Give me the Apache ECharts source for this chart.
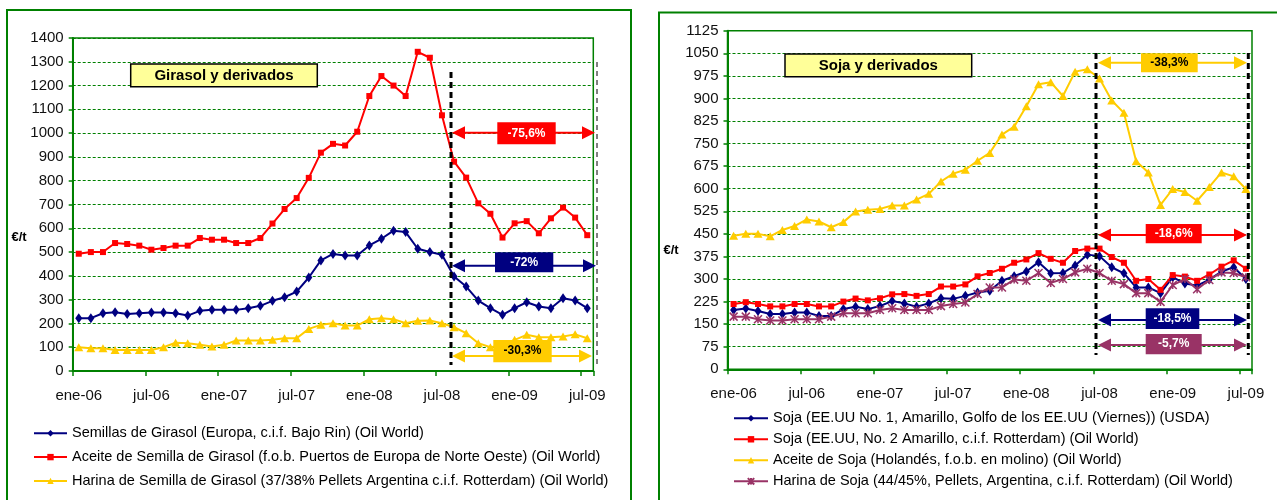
<!DOCTYPE html>
<html>
<head>
<meta charset="utf-8">
<script src="https://cdn.jsdelivr.net/npm/echarts@6/dist/echarts.min.js"></script>
<style>
html,body{margin:0;padding:0;background:#fff;}
#c{width:1277px;height:500px;}
</style>
</head>
<body>
<div id="c"></div>
<script>
// ---- categories (months) ----
const months = [
 'ene-06','feb-06','mar-06','abr-06','may-06','jun-06','jul-06','ago-06','sep-06','oct-06','nov-06','dic-06',
 'ene-07','feb-07','mar-07','abr-07','may-07','jun-07','jul-07','ago-07','sep-07','oct-07','nov-07','dic-07',
 'ene-08','feb-08','mar-08','abr-08','may-08','jun-08','jul-08','ago-08','sep-08','oct-08','nov-08','dic-08',
 'ene-09','feb-09','mar-09','abr-09','may-09','jun-09','jul-09'
];

// ---- Girasol y derivados (€/t) ----
const semillasGirasol = [222,222,243,247,240,243,246,246,243,233,253,257,257,257,264,274,295,310,334,393,465,492,486,486,528,556,590,584,514,500,489,397,355,296,264,236,264,289,271,264,306,296,264];
const aceiteGirasol   = [493,500,500,538,534,527,510,517,527,527,559,552,552,538,538,559,620,681,727,812,918,955,948,1006,1156,1240,1200,1156,1342,1317,1075,880,813,705,661,561,621,630,579,642,687,645,571];
const harinaGirasol   = [100,96,96,88,88,88,88,100,119,117,110,103,110,128,128,128,131,138,138,177,194,201,191,191,218,222,218,201,211,212,201,184,159,117,100,108,131,152,142,142,145,154,138];

// ---- Soja y derivados (€/t) ----
const sojaUSDA      = [197,202,194,184,184,189,189,177,177,200,208,200,210,227,219,208,219,236,234,244,255,261,294,309,325,356,319,320,345,381,376,339,319,272,272,253,306,285,278,298,325,339,300];
const sojaRotterdam = [217,223,217,209,209,217,217,209,209,225,235,229,236,249,250,244,250,275,275,282,309,320,334,354,365,386,367,354,393,401,401,373,354,294,300,264,313,308,294,315,341,362,334];
const aceiteSoja    = [444,450,450,442,463,476,498,491,472,489,524,530,533,544,544,564,583,624,650,663,693,719,780,806,874,947,954,908,989,997,966,893,852,691,654,546,599,589,560,606,654,641,599];
const harinaSoja    = [175,175,166,162,162,166,166,166,175,186,186,186,197,203,197,197,197,210,217,222,250,272,272,298,294,320,287,300,322,334,320,294,283,253,253,224,280,300,266,297,322,320,306];

// ---- texts ----
const namesGirasol = [
 'Semillas de Girasol (Europa, c.i.f. Bajo Rin) (Oil World)',
 'Aceite de Semilla de Girasol (f.o.b. Puertos de Europa de Norte Oeste) (Oil World)',
 'Harina de Semilla de Girasol (37/38% Pellets Argentina c.i.f. Rotterdam) (Oil World)'
];
const namesSoja = [
 'Soja (EE.UU No. 1, Amarillo, Golfo de los EE.UU (Viernes)) (USDA)',
 'Soja (EE.UU, No. 2 Amarillo, c.i.f. Rotterdam) (Oil World)',
 'Aceite de Soja (Holandés, f.o.b. en molino) (Oil World)',
 'Harina de Soja (44/45%, Pellets, Argentina, c.i.f. Rotterdam) (Oil World)'
];
const titleGirasol = 'Girasol y derivados';
const titleSoja = 'Soja y derivados';
const pctGirasol = ['-75,6%','-72%','-30,3%'];
const pctSoja = ['-38,3%','-18,6%','-18,5%','-5,7%'];
const unitLabel = '€/t';

const NAVY='#000080', RED='#FF0000', YEL='#FFCC00', PUR='#993366', GREEN='#008000';
const FONT='Liberation Sans, Arial, sans-serif';

const chart = echarts.init(document.getElementById('c'), null, {renderer:'canvas'});

function xAxisCfg(gi){
  return {
    type:'category', gridIndex:gi, data:months, boundaryGap:true,
    axisLine:{lineStyle:{color:GREEN,width:2}},
    axisTick:{show:true,interval:5,length:5,lineStyle:{color:GREEN,width:1.5}},
    axisLabel:{interval:5,margin:17,fontSize:15,color:'#111',fontFamily:FONT},
    splitLine:{show:false}
  };
}
function yAxisCfg(gi,max,step){
  return {
    type:'value', gridIndex:gi, min:0, max:max, interval:step,
    axisLine:{show:true,lineStyle:{color:GREEN,width:2}},
    axisTick:{show:true,length:4,lineStyle:{color:GREEN,width:1.5}},
    axisLabel:{margin:9,fontSize:15,color:'#111',fontFamily:FONT,formatter:function(v){return String(v);}},
    splitLine:{show:true,lineStyle:{color:GREEN,type:[3,2],width:1.2}}
  };
}
function lineSeries(name,data,gi,color,symbol,size,extra){
  return Object.assign({
    name:name, type:'line', xAxisIndex:gi, yAxisIndex:gi, data:data,
    symbol:symbol, symbolSize:size, showSymbol:true, showAllSymbol:true,
    lineStyle:{color:color,width:2}, itemStyle:{color:color},
    emphasis:{disabled:true}, z:3
  }, extra||{});
}
const starPath = 'path://M0,0L10,10M10,0L0,10M5,0L5,10';

// ---- graphic helpers (annotation decorations) ----
const g = [];
function rect(x,y,w,h,fill,stroke,lw,z){
  g.push({type:'rect',shape:{x:x,y:y,width:w,height:h},style:{fill:fill,stroke:stroke,lineWidth:lw||0},z:z||100,silent:true});
}
function vdash(x,y1,y2,w,dash){
  g.push({type:'line',shape:{x1:x,y1:y1,x2:x,y2:y2},style:{stroke:'#000',lineWidth:w,lineDash:dash},z:90,silent:true});
}
function arrow(x1,x2,y,color){
  const hl=13, hw=6.5;
  g.push({type:'line',shape:{x1:x1+8,y1:y,x2:x2-8,y2:y},style:{stroke:color,lineWidth:2},z:95,silent:true});
  g.push({type:'polygon',shape:{points:[[x1,y],[x1+hl,y-hw],[x1+hl,y+hw]]},style:{fill:color},z:95,silent:true});
  g.push({type:'polygon',shape:{points:[[x2,y],[x2-hl,y-hw],[x2-hl,y+hw]]},style:{fill:color},z:95,silent:true});
}
function tag(x0,x1,y0,y1,fill,txt,tcolor){
  rect(x0,y0,x1-x0,y1-y0,fill,null,0,100);
  g.push({type:'text',x:(x0+x1)/2,y:(y0+y1)/2,style:{text:txt,fill:tcolor,font:'bold 12px '+FONT,align:'center',verticalAlign:'middle'},z:101,silent:true});
}
function titleBox(x0,x1,y0,y1,txt){
  rect(x0,y0,x1-x0,y1-y0,'#FFFF99','#000',1.5,100);
  g.push({type:'text',x:(x0+x1)/2,y:(y0+y1)/2+1,style:{text:txt,fill:'#000',font:'bold 15px '+FONT,align:'center',verticalAlign:'middle'},z:101,silent:true});
}

// outer chart frames
g.push({type:'rect',shape:{x:7,y:10,width:624,height:520},style:{fill:'none',stroke:GREEN,lineWidth:2},z:1,silent:true});
g.push({type:'rect',shape:{x:659,y:12.5,width:640,height:520},style:{fill:'none',stroke:GREEN,lineWidth:2},z:1,silent:true});

// unit labels
g.push({type:'text',x:19,y:237,style:{text:unitLabel,fill:'#000',font:'bold 13px '+FONT,align:'center',verticalAlign:'middle'},z:101,silent:true});
g.push({type:'text',x:671,y:250,style:{text:unitLabel,fill:'#000',font:'bold 13px '+FONT,align:'center',verticalAlign:'middle'},z:101,silent:true});

// titles
titleBox(130.7,317.3,64,86.7,titleGirasol);
titleBox(785,971.7,54,76.7,titleSoja);

// Girasol annotations
vdash(451,72,365,3,[6,4]);
vdash(597,62,365,1,[5,4]);
arrow(452,595,132.7,RED);   tag(497.3,555.7,122.3,144.3,RED,pctGirasol[0],'#fff');
arrow(452,596,265.7,NAVY);  tag(495,553.3,252.3,272.3,NAVY,pctGirasol[1],'#fff');
arrow(452,592,356,YEL);     tag(493.3,551.7,340,362.3,YEL,pctGirasol[2],'#000');

// Soja annotations
vdash(1096,53,355,3,[6,4]);
vdash(1248.3,53,355,3,[6,4]);
arrow(1098,1247,62.7,YEL);  tag(1141,1197.7,53.3,72.3,YEL,pctSoja[0],'#000');
arrow(1098,1247,235,RED);   tag(1145.7,1201.7,224,243.3,RED,pctSoja[1],'#fff');
arrow(1098,1247,320,NAVY);  tag(1145.7,1199.3,308.3,329,NAVY,pctSoja[2],'#fff');
arrow(1098,1247,345,PUR);   tag(1145.7,1201.7,334,354.3,PUR,pctSoja[3],'#fff');

const option = {
  animation:false,
  backgroundColor:'#fff',
  textStyle:{fontFamily:FONT},
  grid:[
    {left:72.7, top:38, width:520.6, height:333, show:true, borderColor:GREEN, borderWidth:1.5, backgroundColor:'transparent'},
    {left:727.5, top:30.7, width:524.5, height:338.6, show:true, borderColor:GREEN, borderWidth:1.5, backgroundColor:'transparent'}
  ],
  xAxis:[xAxisCfg(0), xAxisCfg(1)],
  yAxis:[yAxisCfg(0,1400,100), yAxisCfg(1,1125,75)],
  legend:[
    {data:namesGirasol, orient:'vertical', left:33, top:425.3, padding:0, itemGap:7.8, itemWidth:33, itemHeight:8,
     textStyle:{fontSize:14.5,color:'#000',fontFamily:FONT,lineHeight:16}, selectedMode:false},
    {data:namesSoja, orient:'vertical', left:733, top:410.3, padding:0, itemGap:5, itemWidth:34, itemHeight:8,
     textStyle:{fontSize:14.5,color:'#000',fontFamily:FONT,lineHeight:16}, selectedMode:false}
  ],
  series:[
    lineSeries(namesGirasol[0],semillasGirasol,0,NAVY,'diamond',[7,10]),
    lineSeries(namesGirasol[1],aceiteGirasol,0,RED,'rect',6),
    lineSeries(namesGirasol[2],harinaGirasol,0,YEL,'triangle',[9,8]),
    lineSeries(namesSoja[0],sojaUSDA,1,NAVY,'diamond',[7,10]),
    lineSeries(namesSoja[1],sojaRotterdam,1,RED,'rect',6),
    lineSeries(namesSoja[2],aceiteSoja,1,YEL,'triangle',[9,8]),
    lineSeries(namesSoja[3],harinaSoja,1,PUR,starPath,8,{itemStyle:{color:PUR,borderColor:PUR,borderWidth:1.5}})
  ],
  graphic:g
};
chart.setOption(option);
</script>
</body>
</html>
